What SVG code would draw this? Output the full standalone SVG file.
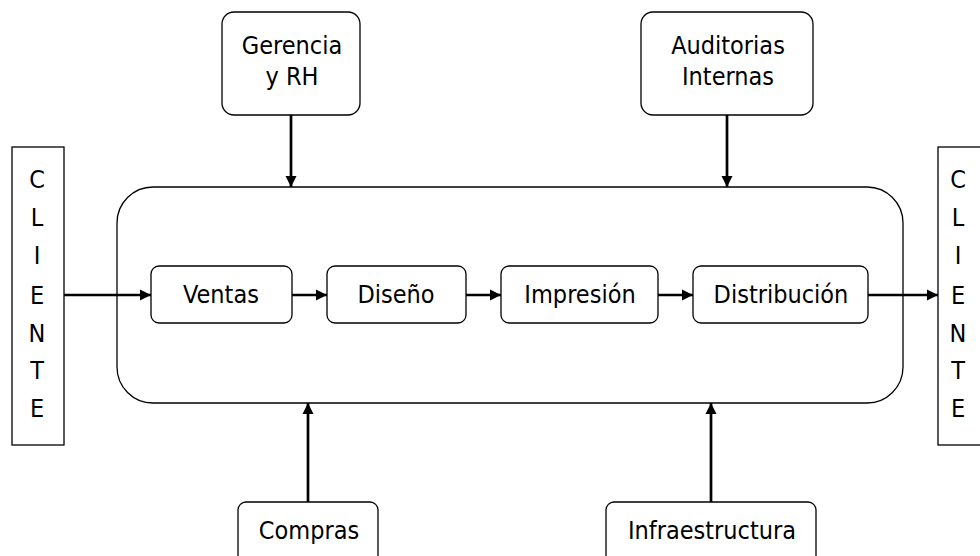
<svg xmlns="http://www.w3.org/2000/svg" width="980" height="556" viewBox="0 0 980 556">
<defs>
<style>
.box{fill:#fff;stroke:#000;stroke-width:1.3}
.t{font-family:"DejaVu Sans Condensed","DejaVu Sans",sans-serif;font-stretch:condensed;font-size:25px;fill:#000;text-anchor:middle}
.c{stroke:#000;stroke-width:2.7;fill:none}
</style>
<marker id="ah" viewBox="0 0 10 10" refX="10" refY="5" markerWidth="4.2" markerHeight="4.2" orient="auto" markerUnits="strokeWidth">
<path d="M0,0 L10,5 L0,10 Z" fill="#000"/>
</marker>
</defs>
<rect width="980" height="556" fill="#fff"/>
<g id="cliente-left">
<rect class="box" x="12" y="147" width="52" height="298"/>
<text class="t" x="37" y="188">C</text>
<text class="t" x="37" y="226">L</text>
<text class="t" x="37" y="264">I</text>
<text class="t" x="37" y="304">E</text>
<text class="t" x="37" y="342">N</text>
<text class="t" x="37" y="379">T</text>
<text class="t" x="37" y="417">E</text>
</g>
<g id="cliente-right">
<rect class="box" x="938" y="147" width="52" height="298"/>
<text class="t" x="958" y="188">C</text>
<text class="t" x="958" y="226">L</text>
<text class="t" x="958" y="264">I</text>
<text class="t" x="958" y="304">E</text>
<text class="t" x="958" y="342">N</text>
<text class="t" x="958" y="379">T</text>
<text class="t" x="958" y="417">E</text>
</g>
<g id="proceso">
<rect class="box" x="117" y="187" width="786" height="216" rx="36" ry="36"/>
</g>
<g id="gerencia">
<rect class="box" x="222" y="12" width="138" height="103" rx="12"/>
<text class="t" x="292" y="54">Gerencia</text>
<text class="t" x="292" y="85">y RH</text>
</g>
<g id="auditorias">
<rect class="box" x="641" y="12" width="172" height="103" rx="12"/>
<text class="t" x="728" y="54">Auditorias</text>
<text class="t" x="728" y="85">Internas</text>
</g>
<g id="ventas">
<rect class="box" x="151" y="266" width="141" height="57" rx="8"/>
<text class="t" x="221" y="303">Ventas</text>
</g>
<g id="diseno">
<rect class="box" x="327" y="266" width="139" height="57" rx="8"/>
<text class="t" x="396" y="303">Diseño</text>
</g>
<g id="impresion">
<rect class="box" x="501" y="266" width="157" height="57" rx="8"/>
<text class="t" x="580" y="303">Impresión</text>
</g>
<g id="distribucion">
<rect class="box" x="693" y="266" width="175" height="57" rx="8"/>
<text class="t" x="781" y="303">Distribución</text>
</g>
<g id="compras">
<rect class="box" x="238" y="502" width="140" height="70" rx="8"/>
<text class="t" x="309" y="539">Compras</text>
</g>
<g id="infraestructura">
<rect class="box" x="606" y="502" width="210" height="70" rx="8"/>
<text class="t" x="712" y="539">Infraestructura</text>
</g>
<g id="connectors">
<line class="c" x1="64" y1="295" x2="151" y2="295" marker-end="url(#ah)"/>
<line class="c" x1="292" y1="295" x2="327" y2="295" marker-end="url(#ah)"/>
<line class="c" x1="466" y1="295" x2="501" y2="295" marker-end="url(#ah)"/>
<line class="c" x1="658" y1="295" x2="693" y2="295" marker-end="url(#ah)"/>
<line class="c" x1="868" y1="295" x2="938" y2="295" marker-end="url(#ah)"/>
<line class="c" x1="291" y1="115" x2="291" y2="187" marker-end="url(#ah)"/>
<line class="c" x1="727" y1="115" x2="727" y2="187" marker-end="url(#ah)"/>
<line class="c" x1="308" y1="502" x2="308" y2="403" marker-end="url(#ah)"/>
<line class="c" x1="711" y1="502" x2="711" y2="403" marker-end="url(#ah)"/>
</g>
</svg>
